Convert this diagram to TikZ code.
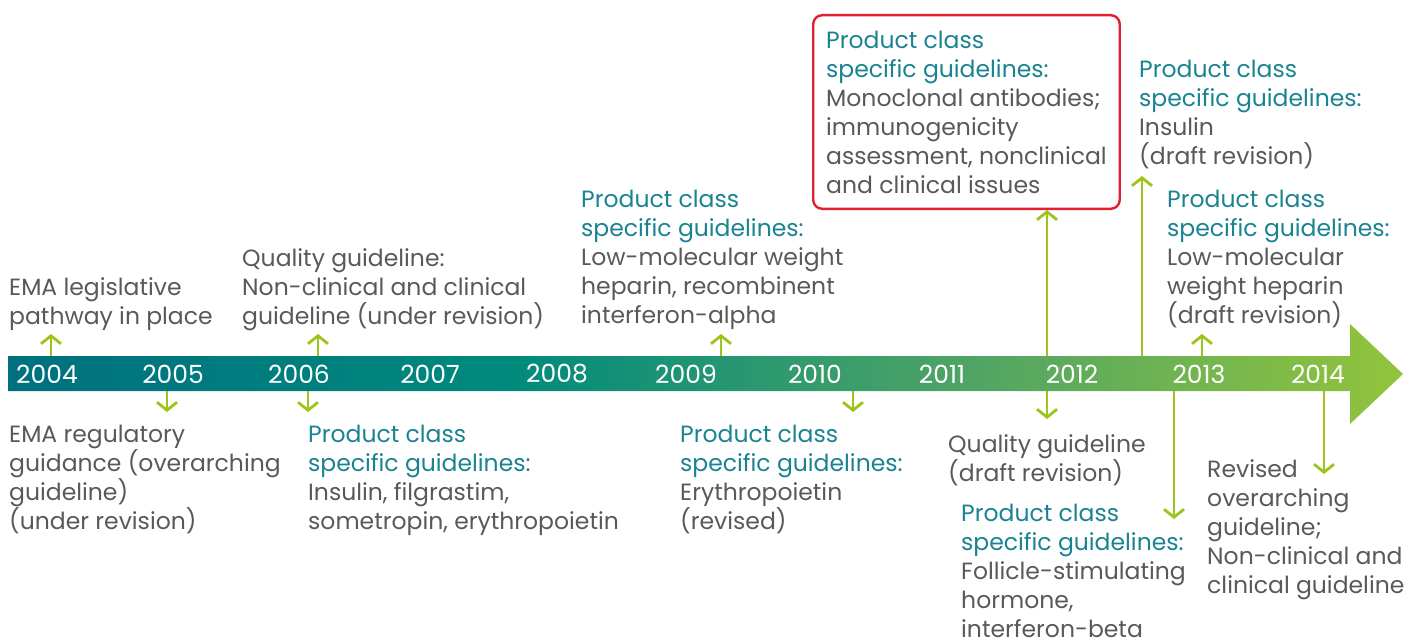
\documentclass[tikz,border=0pt]{standalone}
\usepackage{fontspec}
\setmainfont{Poppins}
\usetikzlibrary{arrows.meta}
\definecolor{txtgray}{HTML}{58595B}
\definecolor{pcteal}{HTML}{1A8391}
\definecolor{lime}{HTML}{9DC41A}
\definecolor{boxred}{HTML}{E0202E}
\definecolor{barA}{HTML}{00707F}
\definecolor{barB}{HTML}{008A7C}
\definecolor{barC}{HTML}{52A564}
\definecolor{barD}{HTML}{93C43B}
\pgfdeclarehorizontalshading{barshade}{100bp}{color(0bp)=(barA); color(25bp)=(barA); color(43bp)=(barB); color(60bp)=(barC); color(75bp)=(barD); color(100bp)=(barD)}
\newcommand\pcl{\textcolor{pcteal}{Product class}\\\textcolor{pcteal}{specific guidelines:}}

\begin{document}
\begin{tikzpicture}[x=1pt,y=-1pt,
    txt/.style={anchor=north west,inner sep=0pt,align=left,text=txtgray,font=\fontsize{23.5}{29}\selectfont},
    yr/.style={text=white,font=\fontsize{25}{28}\selectfont},
    tick/.style={draw=lime,line width=2.8pt,-{Straight Barb[length=8pt,width=20pt]}}]
    \useasboundingbox (0,0) rectangle (1405,639);

    % the time bar
    \shade[shading=barshade] (8,356) -- (1350,356) -- (1350,324) -- (1403,374)
        -- (1350,424) -- (1350,391) -- (8,391) -- cycle;
    \foreach \y/\x in {2004/47,2005/173,2006/299,2007/430,2008/557,2009/686,2010/815,2011/942,2012/1072,2013/1199,2014/1318}
        \node[yr] (y\y) at (\x,374) {\y};

    % texts above
    \node[txt] (legis) at (9,277) {EMA legislative\\pathway in place};
    \node[txt] (qual06) at (242,248) {Quality guideline:\\Non-clinical and clinical\\guideline (under revision)};
    \node[txt] (pc09) at (581,190) {\pcl\\Low-molecular weight\\heparin, recombinent\\interferon-alpha};
    \node[txt,draw=boxred,line width=2.4pt,rounded corners=9pt,inner xsep=13pt,inner ysep=15.5pt] (pc11) at (812,14)
        {\pcl\\Monoclonal antibodies;\\immunogenicity\\assessment, nonclinical\\and clinical issues};
    \node[txt] (pc13a) at (1139,60) {\pcl\\Insulin\\(draft revision)};
    \node[txt] (pc13b) at (1167,190) {\pcl\\Low-molecular\\weight heparin\\(draft revision)};

    % texts below
    \node[txt] (reg05) at (9,425) {EMA regulatory\\guidance (overarching\\guideline)\\(under revision)};
    \node[txt] (pc06) at (308,425) {\pcl\\Insulin, filgrastim,\\sometropin, erythropoietin};
    \node[txt] (pc10) at (680,425) {\pcl\\Erythropoietin\\(revised)};
    \node[txt] (qual12) at (948,434) {Quality guideline\\(draft revision)};
    \node[txt] (pc12) at (961,504) {\pcl\\Follicle-stimulating\\hormone,\\interferon-beta};
    \node[txt] (rev14) at (1207,459) {Revised\\overarching\\guideline;\\Non-clinical and\\clinical guideline};

    % arrows off the bar
    \foreach \n/\x/\ya/\yb in {a/51/356/334,b/167/391/412,c/318/356/334,d/308/391/412,e/721/356/334,
        f/853/391/412,g/1047/391/419,h/1142/356/176,i/1202/356/334,j/1174/391/519,k/1324/391/474}{
        \coordinate (s\n) at (\x,\ya);
        \coordinate (e\n) at (\x,\yb);
        \draw[tick] (s\n) -- (e\n);
    }
    \coordinate (s12) at (1047,356);
    \draw[tick] (s12) -- (s12 |- pc11.south);
\end{tikzpicture}
\end{document}
